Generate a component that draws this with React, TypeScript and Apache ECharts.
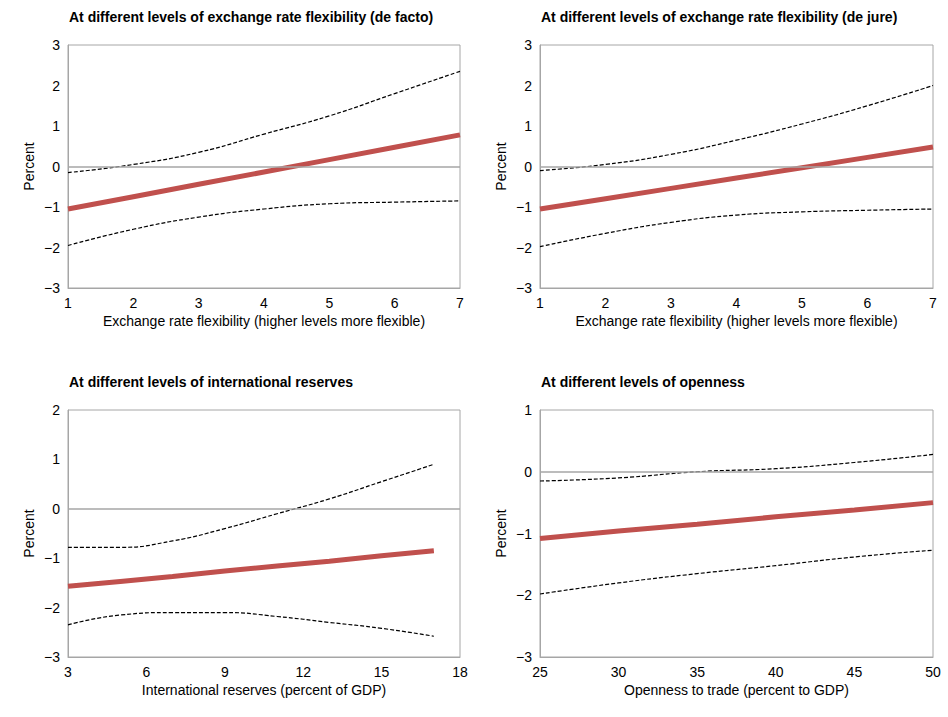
import { useRef, useEffect } from 'react';
import * as echarts from 'echarts';

const flexX = [1, 2, 3, 4, 5, 6, 7];
const deFactoMid = [-1.05, -0.745, -0.44, -0.135, 0.17, 0.475, 0.78];
const deFactoUp = [-0.15, 0.05, 0.35, 0.8, 1.25, 1.8, 2.35];
const deFactoLo = [-1.95, -1.55, -1.25, -1.05, -0.92, -0.88, -0.85];

const deJureMid = [-1.05, -0.795, -0.54, -0.285, -0.03, 0.225, 0.48];
const deJureUp = [-0.1, 0.05, 0.3, 0.65, 1.05, 1.5, 2.0];
const deJureLo = [-1.98, -1.65, -1.38, -1.2, -1.12, -1.08, -1.05];

const resX = [3, 5, 7, 9, 11, 13, 15, 17];
const resMid = [-1.57, -1.47, -1.37, -1.26, -1.16, -1.06, -0.95, -0.85];
const resUp = [-0.78, -0.78, -0.65, -0.4, -0.1, 0.2, 0.55, 0.9];
const resLo = [-2.35, -2.15, -2.1, -2.1, -2.18, -2.3, -2.42, -2.58];

const openX = [25, 30, 35, 40, 45, 50];
const openMid = [-1.08, -0.96, -0.85, -0.73, -0.62, -0.5];
const openUp = [-0.15, -0.1, 0, 0.05, 0.15, 0.28];
const openLo = [-1.98, -1.8, -1.65, -1.52, -1.38, -1.27];

const titles = [
  'At different levels of exchange rate flexibility (de facto)',
  'At different levels of exchange rate flexibility (de jure)',
  'At different levels of international reserves',
  'At different levels of openness',
];
const xNames = [
  'Exchange rate flexibility (higher levels more flexible)',
  'Exchange rate flexibility (higher levels more flexible)',
  'International reserves (percent of GDP)',
  'Openness to trade (percent to GDP)',
];

const font = 'Liberation Sans, Arial, sans-serif';

export default function App() {
  const ref = useRef<HTMLDivElement>(null);
  useEffect(() => {
    if (!ref.current) return;
    const chart = echarts.init(ref.current, undefined, { renderer: 'svg' });
    const grids = [
      { left: 68, top: 45, width: 392, height: 243 },
      { left: 540, top: 45, width: 393, height: 243 },
      { left: 68, top: 410, width: 392, height: 247 },
      { left: 540, top: 410, width: 393, height: 247 },
    ];
    const xs = [
      { min: 1, max: 7, interval: 1 },
      { min: 1, max: 7, interval: 1 },
      { min: 3, max: 18, interval: 3 },
      { min: 25, max: 50, interval: 5 },
    ];
    const ys = [
      { min: -3, max: 3 },
      { min: -3, max: 3 },
      { min: -3, max: 2 },
      { min: -3, max: 1 },
    ];
    const sets = [
      [flexX, deFactoMid, deFactoUp, deFactoLo],
      [flexX, deJureMid, deJureUp, deJureLo],
      [resX, resMid, resUp, resLo],
      [openX, openMid, openUp, openLo],
    ];
    const series: any[] = [];
    sets.forEach((s, i) => {
      const xv = s[0] as number[];
      const mk = (arr: number[]) => xv.map((x, k) => [x, arr[k]]);
      [2, 3].forEach((j) =>
        series.push({
          type: 'line', xAxisIndex: i, yAxisIndex: i, data: mk(s[j] as number[]),
          symbol: 'none', smooth: true,
          lineStyle: { color: '#000', width: 1.2, type: [4, 2] },
        })
      );
      series.push({
        type: 'line', xAxisIndex: i, yAxisIndex: i, data: mk(s[1] as number[]),
        symbol: 'none', lineStyle: { color: '#c0504d', width: 5 },
        markLine: {
          silent: true, symbol: 'none', label: { show: false },
          lineStyle: { color: '#a6a6a6', width: 1.5, type: 'solid' },
          data: [{ yAxis: 0 }],
        },
        z: 3,
      });
    });
    chart.setOption({
      animation: false,
      textStyle: { fontFamily: font },
      title: titles.map((t, i) => ({
        text: t,
        left: grids[i].left - 4,
        top: grids[i].top - 40,
        textStyle: { fontSize: 14, fontWeight: 'bold', color: '#000', fontFamily: font },
      })),
      grid: grids,
      xAxis: xs.map((x, i) => ({
        type: 'value', gridIndex: i, ...x,
        name: xNames[i], nameLocation: 'middle', nameGap: 26,
        nameTextStyle: { fontSize: 14, color: '#000' },
        axisLine: { show: true, onZero: false, lineStyle: { color: '#a6a6a6' } },
        axisTick: { show: false },
        splitLine: { show: false },
        axisLabel: { fontSize: 14, color: '#000' },
      })),
      yAxis: ys.map((y, i) => ({
        type: 'value', gridIndex: i, ...y, interval: 1,
        name: 'Percent', nameLocation: 'middle', nameGap: 32,
        nameTextStyle: { fontSize: 14, color: '#000' },
        axisLine: { show: true, lineStyle: { color: '#a6a6a6' } },
        axisTick: { show: false },
        splitLine: { show: false },
        axisLabel: {
          fontSize: 14, color: '#000',
          formatter: (v: number) => (v < 0 ? '\u2212' + Math.abs(v) : String(v)),
        },
      })),
      graphic: grids.map((g) => ({
        type: 'rect',
        shape: { x: g.left, y: g.top, width: g.width, height: g.height },
        style: { fill: 'none', stroke: '#a6a6a6', lineWidth: 1 },
        silent: true,
      })),
      series,
    });
    return () => chart.dispose();
  }, []);
  return (
    <div
      ref={ref}
      style={{ position: 'absolute', left: 0, top: 0, width: 948, height: 717, background: '#fff' }}
    />
  );
}
